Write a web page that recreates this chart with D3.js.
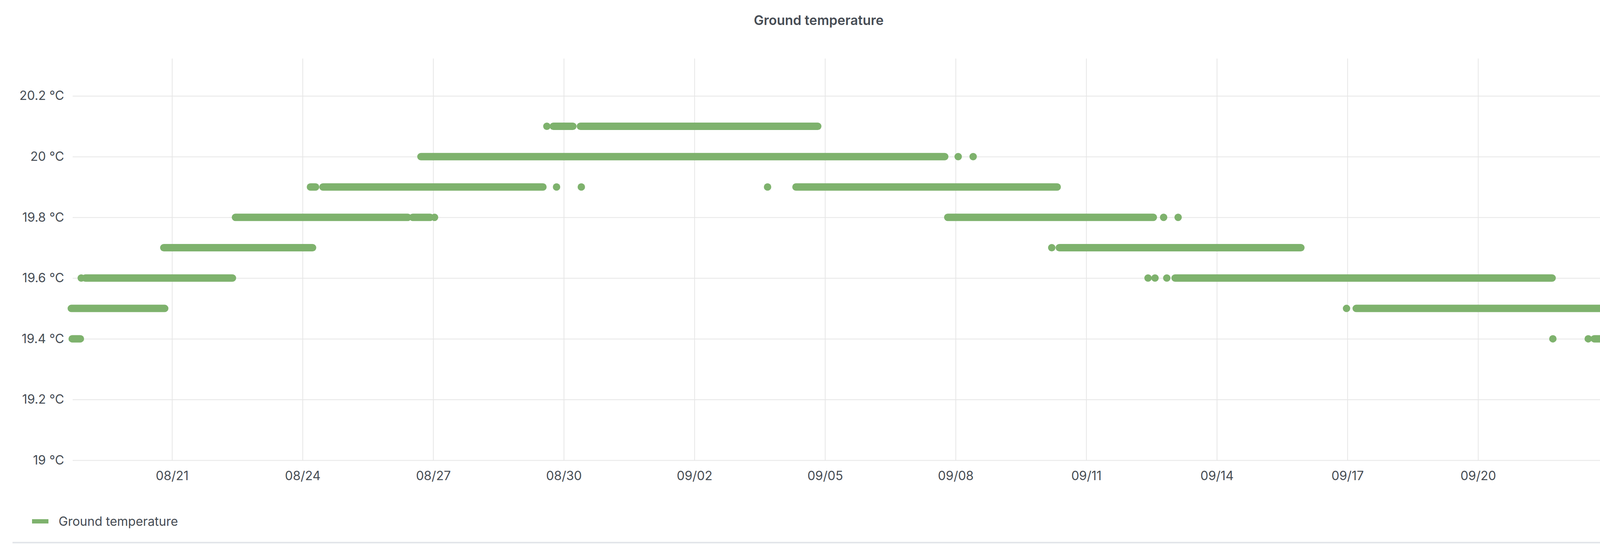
<!DOCTYPE html>
<html>
<head>
<meta charset="utf-8">
<script src="https://cdn.jsdelivr.net/npm/d3@7"></script>
<style>
  body { margin: 0; background: #fff; font-family: Inter, "Open Sans", sans-serif; }
</style>
</head>
<body>
<div id="chart"></div>
<script>
// readings grouped into runs: temperature, start, end (a run with start == end is one lone reading)
var runTemps = [19.4, 19.5, 19.6, 19.6, 19.7, 19.8, 19.8, 19.8,
                19.9, 19.9, 19.9, 19.9, 20.0, 20.0, 20.0, 20.1, 20.1, 20.1,
                19.9, 19.9, 19.8, 19.8, 19.8, 19.7, 19.7,
                19.6, 19.6, 19.6, 19.6, 19.5, 19.5, 19.4, 19.4, 19.4];
var runStarts = ["2023-08-18T17:00", "2023-08-18T16:30", "2023-08-18T22:00", "2023-08-19T00:15", "2023-08-20T19:30",
                 "2023-08-22T11:00", "2023-08-26T12:45", "2023-08-27T00:45",
                 "2023-08-24T04:20", "2023-08-24T11:15", "2023-08-29T20:00", "2023-08-30T09:40",
                 "2023-08-26T17:15", "2023-09-08T01:25", "2023-09-08T09:40",
                 "2023-08-29T14:40", "2023-08-29T18:15", "2023-08-30T09:10",
                 "2023-09-03T16:20", "2023-09-04T08:00", "2023-09-07T19:40", "2023-09-12T18:40", "2023-09-13T02:40",
                 "2023-09-10T05:00", "2023-09-10T09:10",
                 "2023-09-12T10:05", "2023-09-12T13:55", "2023-09-12T20:25", "2023-09-13T01:00",
                 "2023-09-16T23:30", "2023-09-17T04:50",
                 "2023-09-21T17:15", "2023-09-22T12:45", "2023-09-22T16:05"];
var runEnds = ["2023-08-18T21:30", "2023-08-20T20:00", "2023-08-18T22:00", "2023-08-22T09:20", "2023-08-24T05:30",
               "2023-08-26T10:00", "2023-08-26T22:20", "2023-08-27T00:45",
               "2023-08-24T07:10", "2023-08-29T12:30", "2023-08-29T20:00", "2023-08-30T09:40",
               "2023-09-07T18:00", "2023-09-08T01:25", "2023-09-08T09:40",
               "2023-08-29T14:40", "2023-08-30T05:00", "2023-09-04T20:00",
               "2023-09-03T16:20", "2023-09-10T08:00", "2023-09-12T13:00", "2023-09-12T18:40", "2023-09-13T02:40",
               "2023-09-10T05:00", "2023-09-15T22:20",
               "2023-09-12T10:05", "2023-09-12T13:55", "2023-09-12T20:25", "2023-09-21T16:50",
               "2023-09-16T23:30", "2023-09-22T20:30",
               "2023-09-21T17:15", "2023-09-22T12:45", "2023-09-22T19:10"];
var yTicks = [19, 19.2, 19.4, 19.6, 19.8, 20, 20.2];
var xTicks = ["2023-08-21", "2023-08-24", "2023-08-27", "2023-08-30", "2023-09-02", "2023-09-05",
              "2023-09-08", "2023-09-11", "2023-09-14", "2023-09-17", "2023-09-20"];

var W = 4188, H = 1432;
var plotLeft = 186, plotRight = 4098, plotTop = 150, plotBottom = 1179;
var green = "#7eb26d", textCol = "#464c54", gridCol = "#e6e6e6";

var parse = d3.utcParse("%Y-%m-%dT%H:%M");
var parseDay = d3.utcParse("%Y-%m-%d");

var svg = d3.select("#chart").append("svg")
  .attr("width", W).attr("height", H);

var x = d3.scaleUtc()
  .domain([parse("2023-08-18T17:15"), parse("2023-09-22T19:40")])
  .range([plotLeft, plotRight]);
var y = d3.scaleLinear()
  .domain([19, 20.323])
  .range([plotBottom, plotTop]);

// title
svg.append("text")
  .attr("x", 2096).attr("y", 64)
  .attr("text-anchor", "middle")
  .style("font-size", "34px").style("font-weight", 600)
  .style("fill", textCol)
  .text("Ground temperature");

// Y axis with grid
var yAxis = svg.append("g")
  .attr("transform", "translate(" + plotLeft + ",0)")
  .call(d3.axisLeft(y).tickValues(yTicks).tickSize(-(plotRight - plotLeft)).tickPadding(22)
    .tickFormat(d => d3.format("~g")(d) + " °C"));
yAxis.select(".domain").remove();
yAxis.selectAll("line").attr("stroke", gridCol).attr("stroke-width", 2);
yAxis.selectAll("text").style("font-size", "32px").style("fill", textCol)
  .style("font-family", "Inter, sans-serif");

// X axis with grid
var xAxis = svg.append("g")
  .attr("transform", "translate(0," + plotBottom + ")")
  .call(d3.axisBottom(x).tickValues(xTicks.map(parseDay)).tickSize(-(plotBottom - plotTop))
    .tickPadding(28).tickFormat(d3.utcFormat("%m/%d")));
xAxis.select(".domain").remove();
xAxis.selectAll("line").attr("stroke", gridCol).attr("stroke-width", 2);
xAxis.selectAll("text").style("font-size", "32px").style("fill", textCol)
  .style("font-family", "Inter, sans-serif");

// runs of readings as thick round-capped strokes
var runs = runTemps.map((t, i) => ({t: t, s: parse(runStarts[i]), e: parse(runEnds[i])}));
svg.append("g").selectAll("line")
  .data(runs)
  .join("line")
  .attr("x1", d => x(d.s)).attr("x2", d => x(d.e))
  .attr("y1", d => y(d.t)).attr("y2", d => y(d.t))
  .attr("stroke", green)
  .attr("stroke-width", 19)
  .attr("stroke-linecap", "round");

// legend
svg.append("rect")
  .attr("x", 82).attr("y", 1330).attr("width", 42).attr("height", 11)
  .attr("fill", green);
svg.append("text")
  .attr("x", 150).attr("y", 1347)
  .style("font-size", "32px").style("fill", textCol)
  .text("Ground temperature");

// bottom rule
svg.append("line")
  .attr("x1", 32).attr("x2", 4176).attr("y1", 1390).attr("y2", 1390)
  .attr("stroke", "#e3e6ea").attr("stroke-width", 4);
</script>
</body>
</html>
